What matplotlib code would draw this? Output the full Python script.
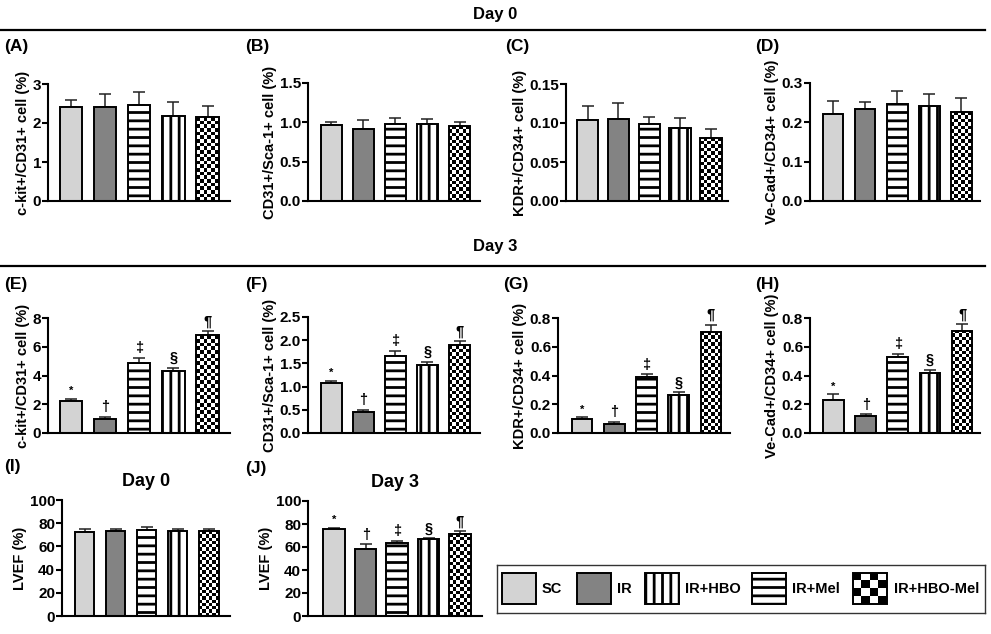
import matplotlib
matplotlib.use("Agg")
import matplotlib.pyplot as plt
import numpy as np
from matplotlib.patches import Rectangle
from matplotlib.lines import Line2D

plt.rcParams['font.family'] = ['Liberation Sans', 'DejaVu Sans']
plt.rcParams['font.weight'] = 'bold'
plt.rcParams['hatch.linewidth'] = 2.0

W, H = 991, 634

groups = ["SC", "IR", "IR+HBO", "IR+Mel", "IR+HBO-Mel"]
sig_marks = ["*", "\u2020", "\u2021", "\u00a7", "\u00b6"]

# bar order in panels: SC, IR, IR+Mel, IR+HBO, IR+HBO-Mel
kit_d0 = [2.40, 2.41, 2.47, 2.18, 2.15]
kit_d0_err = [0.20, 0.33, 0.33, 0.37, 0.28]
sca_d0 = [0.96, 0.92, 0.98, 0.98, 0.95]
sca_d0_err = [0.05, 0.11, 0.07, 0.06, 0.05]
kdr_d0 = [0.104, 0.105, 0.099, 0.093, 0.081]
kdr_d0_err = [0.018, 0.021, 0.009, 0.014, 0.011]
vecad_d0 = [0.221, 0.234, 0.246, 0.242, 0.226]
vecad_d0_err = [0.034, 0.017, 0.034, 0.029, 0.036]

kit_d3 = [2.24, 0.97, 4.88, 4.31, 6.80]
kit_d3_err = [0.13, 0.13, 0.36, 0.21, 0.27]
sca_d3 = [1.07, 0.46, 1.67, 1.47, 1.89]
sca_d3_err = [0.05, 0.04, 0.10, 0.06, 0.09]
kdr_d3 = [0.099, 0.065, 0.387, 0.265, 0.70]
kdr_d3_err = [0.011, 0.013, 0.021, 0.019, 0.054]
vecad_d3 = [0.23, 0.115, 0.53, 0.42, 0.71]
vecad_d3_err = [0.04, 0.015, 0.02, 0.02, 0.045]

lvef_d0 = [72.6, 73.2, 74.0, 73.5, 73.2]
lvef_d0_err = [2.0, 1.4, 2.4, 1.7, 1.8]
lvef_d3 = [75.6, 58.0, 63.8, 67.0, 71.6]
lvef_d3_err = [1.2, 4.3, 1.4, 0.5, 2.0]

face = ["#d3d3d3", "#838383", "white", "white", "none"]
hatches = [None, None, "--", "||", None]


def fill_checker(ax, bar, ncols=6, zorder=1.5):
    x0, y0 = bar.get_x(), bar.get_y()
    x1, y1 = x0 + bar.get_width(), y0 + bar.get_height()
    p0 = ax.transData.transform((x0, y0))
    p1 = ax.transData.transform((x1, y1))
    cell = (p1[0] - p0[0]) / ncols
    nrows = max(1, int(round((p1[1] - p0[1]) / cell)))
    ii, jj = np.indices((nrows, ncols))
    arr = (ii + jj) % 2
    im = ax.imshow(arr, extent=(x0, x1, y0, y1), origin='lower', cmap='gray',
                   interpolation='nearest', aspect='auto', zorder=zorder)
    im.set_clip_path(bar)


def panel(rect, vals, errs, ylim, ticks, fmt, ylabel, xlim, width=0.65,
          marks=False, title=None, lab=None, lab_xy=None):
    l, r, b, t = rect
    ax = fig.add_axes([l / W, 1 - b / H, (r - l) / W, (b - t) / H])
    x = np.arange(len(vals))
    ax.set_xlim(*xlim)
    ax.set_ylim(*ylim)
    bars = ax.bar(x, vals, width=width, color=face, edgecolor='black',
                  linewidth=1.4, zorder=2)
    for bb, h in zip(bars, hatches):
        if h:
            bb.set_hatch(h)
    fill_checker(ax, bars[4])
    ax.errorbar(x, vals, yerr=[np.zeros(len(vals)), errs], fmt='none',
                ecolor='#222222', elinewidth=1.1, capsize=4.5, capthick=1.1,
                zorder=1)
    if marks:
        for xi, v, e, m in zip(x, vals, errs, sig_marks):
            fs = 8 if m == "*" else 10.5
            ax.annotate(m, (xi, v + e), xytext=(0, 2), textcoords='offset points',
                        ha='center', va='bottom', fontsize=fs, fontweight='bold')
    ax.set_yticks(ticks)
    ax.set_yticklabels([fmt.format(tk) for tk in ticks])
    ax.set_xticks([])
    for s in ['top', 'right']:
        ax.spines[s].set_visible(False)
    for s in ['left', 'bottom']:
        ax.spines[s].set_linewidth(1.5)
    ax.tick_params(axis='y', labelsize=11, width=1.5, length=4, pad=1)
    ax.set_ylabel(ylabel, fontsize=10.5, fontweight='bold', labelpad=2)
    if title:
        ax.set_title(title, fontsize=13, fontweight='bold', pad=10)
    if lab:
        fig.text(lab_xy[0] / W, 1 - lab_xy[1] / H, lab, fontsize=12.5,
                 fontweight='bold', ha='left', va='center')
    return ax


fig = plt.figure(figsize=(W / 100, H / 100), dpi=100)

# headers
fig.text(495 / W, 1 - 14 / H, "Day 0", fontsize=12, fontweight='bold', ha='center', va='center')
fig.add_artist(Line2D([0, 985 / W], [1 - 30 / H, 1 - 30 / H], color='black', lw=1.6))
fig.text(495 / W, 1 - 246 / H, "Day 3", fontsize=12, fontweight='bold', ha='center', va='center')
fig.add_artist(Line2D([0, 985 / W], [1 - 266 / H, 1 - 266 / H], color='black', lw=1.6))

# Day 0 row
panel((48, 230, 201, 84), kit_d0, kit_d0_err, (0, 3), [0, 1, 2, 3], "{:g}",
      "c-kit+/CD31+ cell (%)", (-0.68, 4.66), lab="(A)", lab_xy=(4, 47))
panel((308, 480, 201, 83), sca_d0, sca_d0_err, (0, 1.5), [0, 0.5, 1.0, 1.5], "{:.1f}",
      "CD31+/Sca-1+ cell (%)", (-0.73, 4.64), lab="(B)", lab_xy=(245, 47))
panel((566, 728, 201, 84), kdr_d0, kdr_d0_err, (0, 0.15), [0, 0.05, 0.10, 0.15], "{:.2f}",
      "KDR+/CD34+ cell (%)", (-0.70, 4.55), width=0.70, lab="(C)", lab_xy=(505, 47))
panel((810, 980, 201, 83), vecad_d0, vecad_d0_err, (0, 0.3), [0, 0.1, 0.2, 0.3], "{:.1f}",
      "Ve-Cad+/CD34+ cell (%)", (-0.72, 4.58), width=0.64, lab="(D)", lab_xy=(755, 47))

# Day 3 row
panel((48, 230, 433, 318), kit_d3, kit_d3_err, (0, 8), [0, 2, 4, 6, 8], "{:g}",
      "c-kit+/CD31+ cell (%)", (-0.68, 4.66), marks=True, lab="(E)", lab_xy=(4, 285))
panel((308, 480, 433, 317), sca_d3, sca_d3_err, (0, 2.5), [0, 0.5, 1.0, 1.5, 2.0, 2.5], "{:.1f}",
      "CD31+/Sca-1+ cell (%)", (-0.73, 4.64), marks=True, lab="(F)", lab_xy=(245, 285))
panel((558, 730, 433, 318), kdr_d3, kdr_d3_err, (0, 0.8), [0, 0.2, 0.4, 0.6, 0.8], "{:.1f}",
      "KDR+/CD34+ cell (%)", (-0.75, 4.59), width=0.64, marks=True, lab="(G)", lab_xy=(503, 285))
panel((810, 980, 433, 318), vecad_d3, vecad_d3_err, (0, 0.8), [0, 0.2, 0.4, 0.6, 0.8], "{:.1f}",
      "Ve-Cad+/CD34+ cell (%)", (-0.73, 4.56), width=0.64, marks=True, lab="(H)", lab_xy=(755, 285))

# LVEF row
panel((62, 230, 616, 500), lvef_d0, lvef_d0_err, (0, 100), [0, 20, 40, 60, 80, 100], "{:g}",
      "LVEF (%)", (-0.73, 4.68), width=0.62, title="Day 0", lab="(I)", lab_xy=(4, 466))
panel((308, 482, 616, 501), lvef_d3, lvef_d3_err, (0, 100), [0, 20, 40, 60, 80, 100], "{:g}",
      "LVEF (%)", (-0.83, 4.70), width=0.69, marks=True, title="Day 3", lab="(J)", lab_xy=(245, 468))

# legend box
lx0, ly0, lw, lh = 497, 565, 488, 48
lax = fig.add_axes([lx0 / W, 1 - (ly0 + lh) / H, lw / W, lh / H])
lax.set_xlim(0, lw)
lax.set_ylim(0, lh)
lax.set_xticks([])
lax.set_yticks([])
for s in lax.spines.values():
    s.set_linewidth(1.0)
    s.set_color('#333333')

sw_x = [5, 80, 148, 255, 356]
txt_x = [45, 120, 188, 295, 397]
leg_face = ["#d3d3d3", "#838383", "white", "white", "none"]
leg_hatch = [None, None, "||", "--", None]
for i, name in enumerate(groups):
    rect = Rectangle((sw_x[i], 9), 34, 31, facecolor=leg_face[i], edgecolor='black',
                     linewidth=1.4, hatch=leg_hatch[i], zorder=2)
    lax.add_patch(rect)
    if i == 4:
        ii, jj = np.indices((4, 4))
        im = lax.imshow((ii + jj) % 2, extent=(sw_x[i], sw_x[i] + 34, 9, 40), cmap='gray',
                        interpolation='nearest', aspect='auto', zorder=1.5)
        im.set_clip_path(rect)
    lax.text(txt_x[i], 24, name, fontsize=10.5, fontweight='bold', ha='left', va='center')
lax.set_xlim(0, lw)
lax.set_ylim(0, lh)

fig.savefig("out.png", dpi=100)
